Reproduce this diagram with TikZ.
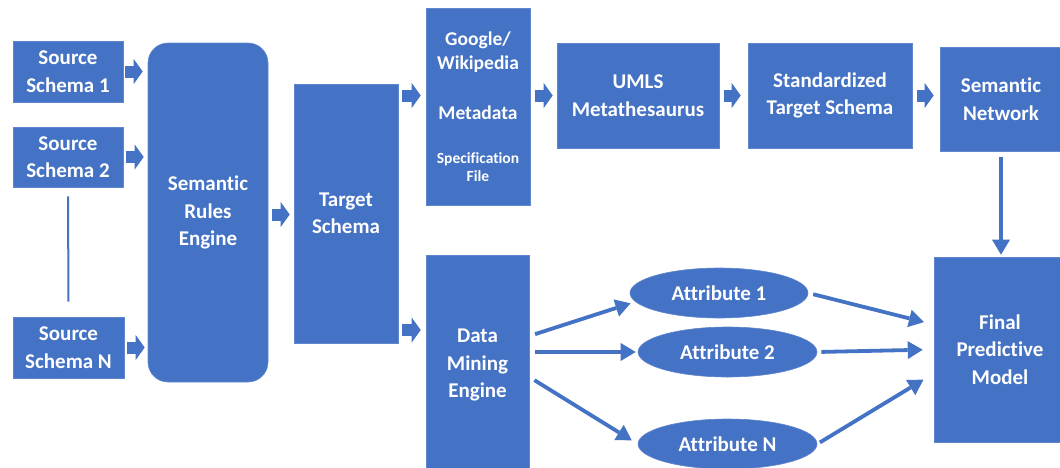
\documentclass[tikz,border=0pt]{standalone}
\usepackage{fontspec}
\setmainfont{Carlito}[Ligatures=NoCommon]
\usetikzlibrary{arrows.meta}
\usetikzlibrary{shapes.geometric}
\definecolor{boxblue}{HTML}{4472C4}
\tikzset{basic/.style={draw=boxblue!85!white,fill=boxblue,text=white,font=\bfseries\fontsize{21}{27.5}\selectfont,align=center,inner sep=0pt}}
\tikzset{block/.style={basic,rectangle}}
\tikzset{attr/.style={basic,ellipse,minimum width=179pt,minimum height=50pt}}
\tikzset{fatarrow/.style={draw=boxblue,line width=12pt,-{Triangle[length=9pt,width=25pt,line width=0pt]}}}
\tikzset{thinarrow/.style={draw=boxblue,line width=3.8pt,-{Triangle[length=15pt,width=18pt,line width=0pt]}}}

\begin{document}
\begin{tikzpicture}[
x = 1pt, y = -1pt, % pixel grid, y pointing down
semithick % line style
]
\useasboundingbox (0,0) rectangle (1060,467);

% source schemas
\node[block, minimum width=110pt, minimum height=61pt] (src1) at (68,71.5) {Source\\Schema 1};
\node[block, minimum width=110pt, minimum height=60pt] (src2) at (68,157) {Source\\Schema 2};
\node[block, minimum width=111pt, minimum height=61pt] (srcN) at (68.5,347.5) {Source\\Schema N};

% engines and schemas
\node[block, rounded corners=20pt, minimum width=120pt, minimum height=339pt] (sre) at (208,212.5) {Semantic\\Rules\\Engine};
\node[block, minimum width=104pt, minimum height=259pt] (ts) at (346,213.5) {Target\\Schema};
\node[block, minimum width=104pt, minimum height=197pt, font=\bfseries\fontsize{19.5}{24}\selectfont] (gw) at (478,106.5)
  {Google/\\Wikipedia\\[26pt]Metadata\\[20pt]\fontsize{15.5}{18}\selectfont Specification\\[-6pt]\fontsize{15.5}{18}\selectfont File};
\node[block, minimum width=162pt, minimum height=105pt] (umls) at (638,95.5) {UMLS\\Metathesaurus};
\node[block, minimum width=164pt, minimum height=105pt] (std) at (830,95.5) {Standardized\\Target Schema};
\node[block, minimum width=122pt, minimum height=104pt] (sn) at (1001,99) {Semantic\\Network};
\node[block, minimum width=103pt, minimum height=220pt] (dme) at (477.5,365) {Data\\Mining\\Engine};
\node[block, minimum width=132pt, minimum height=185pt] (fpm) at (1000,349.5) {Final\\Predictive\\Model};

% attributes
\node[attr, minimum width=178pt] (at1) at (719,293) {Attribute 1};
\node[attr] (at2) at (727.5,352) {Attribute 2};
\node[attr] (atN) at (727.5,444) {Attribute N};

% links
\draw[boxblue, line width=2pt] ([yshift=-9pt]src2.south) -- ([yshift=15pt]srcN.north);
\draw[fatarrow, shorten <=2pt, shorten >=5pt] (src1.east) -- (src1.east -| sre.west);
\draw[fatarrow, shorten <=3pt, shorten >=4pt] (src2.east) -- (src2.east -| sre.west);
\draw[fatarrow, shorten <=3pt, shorten >=3pt] (srcN.east) -- (srcN.east -| sre.west);
\draw[fatarrow, shorten <=4pt, shorten >=4pt] ([yshift=-2pt]sre.east) -- ([yshift=-2pt]sre.east -| ts.west);
\draw[fatarrow, shorten <=4pt, shorten >=5pt] (ts.east |- umls.west) -- (gw.west |- umls.west);
\draw[fatarrow, shorten <=4pt, shorten >=5pt] (ts.east |- 0,330) -- (dme.west |- 0,330);
\draw[fatarrow, shorten <=5pt, shorten >=4pt] (gw.east |- umls.west) -- (umls.west);
\draw[fatarrow, shorten <=5pt, shorten >=7pt] (umls.east) -- (std.west);
\draw[fatarrow, shorten <=5pt, shorten >=6pt] (std.east) -- (std.east -| sn.west);

\draw[thinarrow, shorten <=6pt, shorten >=5pt] ([yshift=29pt]dme.east) -- (at1.186);
\draw[thinarrow, shorten <=6pt, shorten >=2pt] (dme.east |- at2.west) -- (at2.west);
\draw[thinarrow, shorten <=6pt, shorten >=7pt] ([yshift=-12pt]dme.east) -- (atN.west);
\draw[thinarrow, shorten <=5pt, shorten >=10pt] (at1.east) -- ([yshift=25pt]fpm.west);
\draw[thinarrow, shorten <=4pt, shorten >=11pt] (at2.east) -- (fpm.west);
\draw[thinarrow, shorten <=3pt, shorten >=12pt] (atN.east) -- ([yshift=-24pt]fpm.west);
\draw[thinarrow, shorten <=6pt, shorten >=2pt] (sn.south) -- (sn.south |- fpm.north);
\end{tikzpicture}
\end{document}
